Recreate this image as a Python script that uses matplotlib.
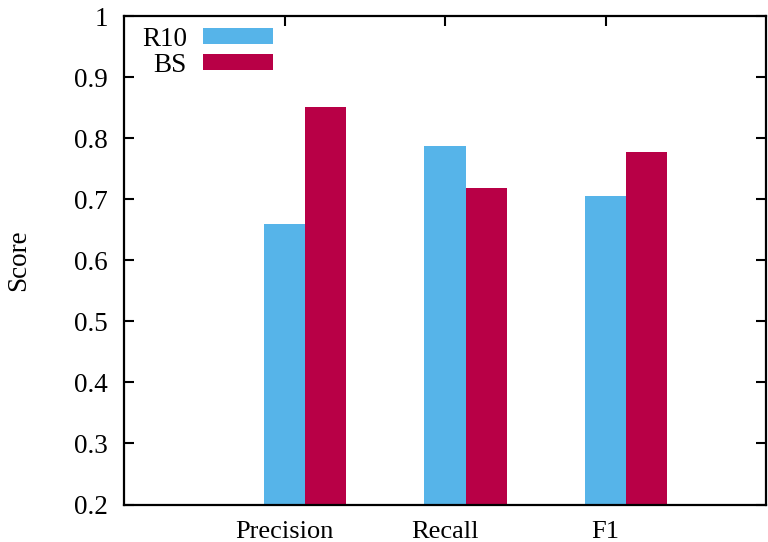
import matplotlib
matplotlib.use("Agg")
import matplotlib.pyplot as plt
import numpy as np

categories = ["Precision", "Recall", "F1"]
r10 = [0.660, 0.787, 0.706]
bs = [0.851, 0.719, 0.777]
series_names = ["R10", "BS"]
yticks = [0.2, 0.3, 0.4, 0.5, 0.6, 0.7, 0.8, 0.9, 1.0]
ytick_labels = ["0.2", "0.3", "0.4", "0.5", "0.6", "0.7", "0.8", "0.9", "1"]

plt.rcParams['font.family'] = ['Liberation Serif', 'DejaVu Serif']
plt.rcParams['font.size'] = 19.5

W, H = 768, 542
fig = plt.figure(figsize=(W/100, H/100), dpi=100)
ax = fig.add_axes([124/W, 1-504.5/H, (766-124)/W, (504.5-16)/H])

x = np.arange(len(categories))
bw = 0.256
ax.bar(x - bw/2, r10, width=bw, align='edge', color='#56B4E9', label=series_names[0], zorder=2)
ax.bar(x + bw/2, bs, width=bw, align='edge', color='#B80046', label=series_names[1], zorder=2)

ax.set_xlim(-1, 3)
ax.set_ylim(0.2, 1.0)
ax.set_xticks(x)
ax.set_xticklabels(categories, fontsize=19)
ax.set_yticks(yticks)
ax.set_yticklabels(ytick_labels, fontsize=19.5)
ax.tick_params(direction='in', length=7, width=1.5, top=True, right=True)
ax.tick_params(axis='y', pad=11.5)
ax.tick_params(axis='x', pad=12)
for s in ax.spines.values():
    s.set_linewidth(1.6)
    s.set_zorder(3)
ax.set_ylabel("Score", labelpad=31, fontsize=19.5)

leg = ax.legend(loc='upper left', bbox_to_anchor=(0.0235, 0.984), frameon=False,
                markerfirst=False, handlelength=2.6, handleheight=0.52,
                handletextpad=0.6, labelspacing=0.04, borderaxespad=0.0,
                borderpad=0.1, fontsize=19.5)
for t in leg.get_texts():
    t.set_ha('right')

fig.savefig("out.png", dpi=100)
